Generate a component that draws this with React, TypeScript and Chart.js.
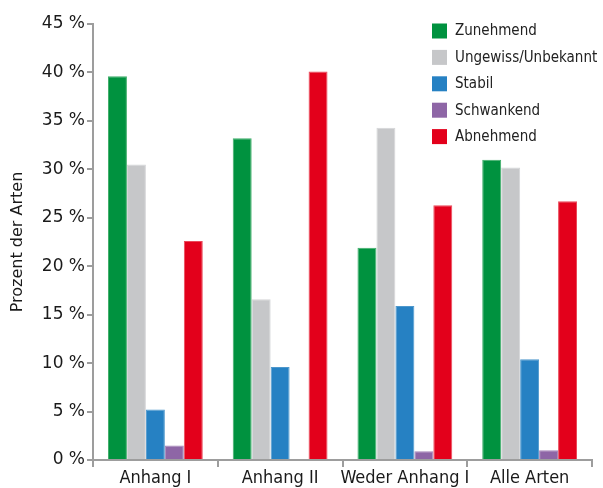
import React, { useEffect, useRef } from "react";
import { Chart, registerables } from "chart.js";

Chart.register(...registerables);

const categories = ["Anhang I", "Anhang II", "Weder Anhang I", "Alle Arten"];
const seriesNames = ["Zunehmend", "Ungewiss/Unbekannt", "Stabil", "Schwankend", "Abnehmend"];
const zunehmend = [39.6, 33.2, 21.9, 31.0];
const ungewiss = [30.5, 16.6, 34.3, 30.2];
const stabil = [5.2, 9.6, 15.9, 10.4];
const schwankend = [1.5, 0, 0.9, 1.0];
const abnehmend = [22.6, 40.1, 26.3, 26.7];
const colors = ["#00923F", "#C6C7C9", "#2681C3", "#8E66A6", "#E3001B"];
const borderColors = ["#3fae6a", "#d4d5d7", "#4d97cc", "#a585b8", "#ea4a5a"];
const yTicks = [0, 5, 10, 15, 20, 25, 30, 35, 40, 45];

const condensed = "'DejaVu Sans Condensed', 'Liberation Sans Narrow', 'Arial Narrow', sans-serif";

const legendPlugin = {
  id: "customLegend",
  afterDraw(chart: any) {
    const ctx = chart.ctx;
    ctx.save();
    const startY = 31;
    const step = 26.4;
    chart.data.datasets.forEach((ds: any, i: number) => {
      const cy = startY + i * step;
      ctx.fillStyle = ds.backgroundColor;
      ctx.fillRect(432, cy - 7.5, 15, 15);
      ctx.fillStyle = "#222222";
      ctx.font = "15px " + condensed;
      ctx.textBaseline = "middle";
      ctx.textAlign = "left";
      ctx.fillText(ds.label, 455, cy + 0.5);
    });
    ctx.restore();
  },
};

export default function App() {
  const ref = useRef<HTMLCanvasElement | null>(null);
  useEffect(() => {
    if (!ref.current) return;
    const values = [zunehmend, ungewiss, stabil, schwankend, abnehmend];
    const chart = new Chart(ref.current, {
      type: "bar",
      data: {
        labels: categories,
        datasets: seriesNames.map((name, i) => ({
          label: name,
          data: values[i],
          backgroundColor: colors[i],
          borderColor: borderColors[i],
          borderWidth: 1,
          categoryPercentage: 0.76,
          barPercentage: 1.0,
        })),
      },
      options: {
        animation: false,
        responsive: false,
        maintainAspectRatio: false,
        layout: { padding: { top: 24, right: 11, left: 0, bottom: 0 } },
        plugins: {
          legend: { display: false },
          tooltip: { enabled: false },
        },
        scales: {
          x: {
            grid: {
              display: true,
              drawOnChartArea: false,
              drawTicks: true,
              tickLength: 7,
              offset: true,
              color: "#9d9d9d",
              lineWidth: 2,
            },
            border: { display: true, color: "#9d9d9d", width: 2 },
            ticks: {
              color: "#1a1a1a",
              font: { size: 18, family: condensed },
              padding: 1,
              maxRotation: 0,
              autoSkip: false,
            },
            afterFit(scale: any) {
              scale.height = 28;
            },
          },
          y: {
            min: 0,
            max: 45,
            afterBuildTicks(scale: any) {
              scale.ticks = yTicks.map((v) => ({ value: v }));
            },
            grid: {
              display: true,
              drawOnChartArea: false,
              drawTicks: true,
              tickLength: 6,
              color: "#9d9d9d",
              lineWidth: 2,
            },
            border: { display: true, color: "#9d9d9d", width: 2 },
            ticks: {
              color: "#1a1a1a",
              font: { size: 17, family: "'DejaVu Sans', sans-serif" },
              padding: 2,
              callback: (v: any) => v + " %",
            },
            title: {
              display: true,
              text: "Prozent der Arten",
              color: "#1a1a1a",
              font: { size: 16, family: "'DejaVu Sans', sans-serif" },
              padding: { top: 8, bottom: 0 },
            },
            afterFit(scale: any) {
              scale.width = 93;
            },
          },
        },
      },
      plugins: [legendPlugin],
    });
    return () => chart.destroy();
  }, []);
  return (
    <div style={{ position: "absolute", left: 0, top: 0, width: 603, height: 488, background: "#fff" }}>
      <canvas ref={ref} width={603} height={488} style={{ width: 603, height: 488, display: "block" }} />
    </div>
  );
}
